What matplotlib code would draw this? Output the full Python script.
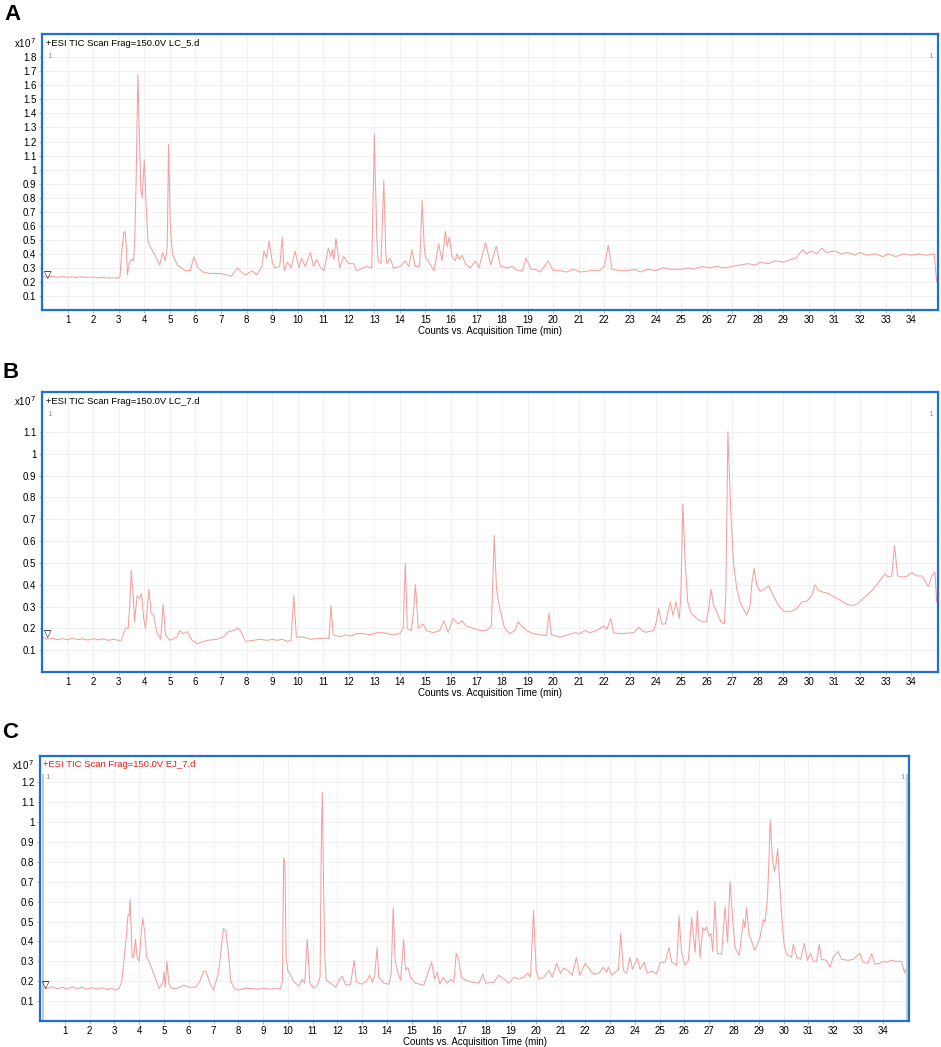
"""
TIC chromatograms (A, B, C) redrawn from digitised points.
Output: out.png
"""
import matplotlib
matplotlib.use("Agg")
import matplotlib.pyplot as plt

plt.rcParams["font.family"] = ["Liberation Sans", "DejaVu Sans"]

OUT = "out.png"

# Panel A: LC_5.d  (time in min, counts in x10^7)
a_time = [0.0, 0.2, 0.4, 0.6, 0.8, 1.0, 1.2, 1.4, 1.5, 1.7, 2.0, 2.2, 2.4, 2.6, 2.8, 2.95,
          3.05, 3.12, 3.2, 3.25, 3.3, 3.34, 3.42, 3.5, 3.58, 3.63, 3.68, 3.75, 3.8, 3.87,
          3.92, 4.0, 4.06, 4.15, 4.3, 4.45, 4.6, 4.72, 4.82, 4.9, 4.95, 5.02, 5.1, 5.3,
          5.6, 5.8, 5.94, 6.1, 6.3, 6.6, 7.0, 7.4, 7.65, 7.85, 8.0, 8.2, 8.4, 8.6, 8.68,
          8.78, 8.89, 9.0, 9.1, 9.3, 9.4, 9.47, 9.6, 9.75, 9.9, 10.05, 10.15, 10.3, 10.4,
          10.5, 10.62, 10.74, 10.9, 11.03, 11.2, 11.3, 11.36, 11.42, 11.5, 11.65, 11.8,
          12.0, 12.2, 12.3, 12.7, 12.9, 13.0, 13.1, 13.15, 13.26, 13.37, 13.45, 13.5,
          13.62, 13.75, 14.03, 14.2, 14.35, 14.47, 14.6, 14.77, 14.87, 14.95, 15.0, 15.13,
          15.33, 15.52, 15.65, 15.78, 15.85, 15.93, 16.04, 16.17, 16.23, 16.34, 16.43,
          16.56, 16.76, 16.96, 17.09, 17.35, 17.55, 17.77, 17.94, 18.2, 18.4, 18.6, 18.8,
          18.93, 19.13, 19.3, 19.5, 19.8, 20.0, 20.3, 20.5, 20.8, 21.06, 21.44, 21.8, 22.0,
          22.15, 22.3, 22.6, 22.9, 23.2, 23.4, 23.7, 24.0, 24.3, 24.6, 25.0, 25.3, 25.5,
          25.8, 26.1, 26.4, 26.7, 27.0, 27.3, 27.6, 27.9, 28.1, 28.4, 28.7, 29.0, 29.3,
          29.5, 29.75, 29.9, 30.1, 30.3, 30.5, 30.7, 31.0, 31.3, 31.5, 31.8, 32.0, 32.3,
          32.6, 32.9, 33.1, 33.4, 33.7, 34.0, 34.3, 34.6, 34.9, 35.0]
a_counts = [0.24, 0.235, 0.24, 0.232, 0.238, 0.233, 0.236, 0.231, 0.238, 0.232, 0.235, 0.228,
            0.233, 0.227, 0.23, 0.225, 0.235, 0.42, 0.55, 0.56, 0.45, 0.25, 0.34, 0.36, 0.35,
            0.5, 0.9, 1.68, 1.3, 0.85, 0.8, 1.07, 0.8, 0.48, 0.43, 0.38, 0.32, 0.41, 0.35,
            0.45, 1.18, 0.6, 0.4, 0.32, 0.28, 0.28, 0.38, 0.3, 0.27, 0.26, 0.26, 0.24, 0.30,
            0.26, 0.25, 0.28, 0.25, 0.31, 0.42, 0.37, 0.49, 0.35, 0.30, 0.31, 0.52, 0.28,
            0.34, 0.3, 0.42, 0.3, 0.37, 0.31, 0.36, 0.41, 0.31, 0.36, 0.3, 0.28, 0.44, 0.38,
            0.43, 0.36, 0.51, 0.3, 0.38, 0.33, 0.33, 0.28, 0.31, 0.3, 1.25, 0.5, 0.35, 0.33,
            0.92, 0.4, 0.33, 0.37, 0.3, 0.31, 0.35, 0.31, 0.43, 0.31, 0.31, 0.78, 0.45, 0.38,
            0.34, 0.28, 0.47, 0.35, 0.56, 0.45, 0.52, 0.38, 0.35, 0.4, 0.36, 0.39, 0.33, 0.3,
            0.35, 0.3, 0.48, 0.32, 0.455, 0.31, 0.3, 0.31, 0.28, 0.28, 0.37, 0.29, 0.29,
            0.27, 0.35, 0.28, 0.28, 0.27, 0.29, 0.27, 0.28, 0.28, 0.31, 0.46, 0.29, 0.28,
            0.28, 0.29, 0.27, 0.29, 0.28, 0.3, 0.29, 0.29, 0.3, 0.29, 0.31, 0.3, 0.31, 0.3,
            0.31, 0.32, 0.33, 0.32, 0.34, 0.33, 0.35, 0.34, 0.36, 0.37, 0.43, 0.40, 0.42,
            0.40, 0.44, 0.41, 0.42, 0.40, 0.41, 0.39, 0.41, 0.39, 0.40, 0.38, 0.40, 0.38,
            0.40, 0.39, 0.40, 0.39, 0.40, 0.20]

# Panel B: LC_7.d
b_time = [0.0, 0.2, 0.4, 0.6, 0.8, 1.0, 1.2, 1.4, 1.6, 1.8, 2.0, 2.2, 2.4, 2.6, 2.8, 3.0, 3.1,
          3.2, 3.27, 3.37, 3.43, 3.49, 3.57, 3.62, 3.72, 3.8, 3.89, 3.98, 4.05, 4.18, 4.27,
          4.37, 4.5, 4.64, 4.74, 4.83, 5.0, 5.28, 5.39, 5.52, 5.68, 5.87, 6.07, 6.46, 6.85,
          7.1, 7.3, 7.5, 7.66, 7.76, 7.96, 8.28, 8.5, 8.8, 9.0, 9.2, 9.4, 9.6, 9.74, 9.85,
          9.95, 10.24, 10.5, 10.76, 11.13, 11.23, 11.3, 11.39, 11.65, 11.91, 12.1, 12.3,
          12.56, 12.83, 13.1, 13.35, 13.74, 14.0, 14.13, 14.21, 14.29, 14.45, 14.52, 14.61,
          14.72, 14.91, 15.04, 15.3, 15.56, 15.72, 15.89, 16.08, 16.28, 16.43, 16.6, 16.87,
          17.13, 17.39, 17.58, 17.69, 17.78, 17.91, 18.1, 18.3, 18.5, 18.63, 18.76, 18.96,
          19.2, 19.6, 19.74, 19.83, 19.93, 20.26, 20.52, 20.84, 21.04, 21.23, 21.43, 21.7,
          21.96, 22.09, 22.25, 22.36, 22.63, 23.15, 23.34, 23.47, 23.6, 23.93, 24.03, 24.12,
          24.25, 24.38, 24.58, 24.68, 24.8, 24.93, 24.99, 25.07, 25.16, 25.26, 25.39, 25.62,
          25.82, 25.98, 26.08, 26.17, 26.27, 26.4, 26.56, 26.69, 26.75, 26.83, 26.95, 27.05,
          27.18, 27.31, 27.44, 27.57, 27.7, 27.77, 27.86, 27.96, 28.09, 28.29, 28.42, 28.61,
          28.81, 29.0, 29.26, 29.52, 29.72, 29.92, 30.11, 30.24, 30.37, 30.57, 30.76, 30.96,
          31.22, 31.48, 31.74, 31.94, 32.1, 32.26, 32.4, 32.59, 32.78, 32.98, 33.1, 33.24,
          33.35, 33.47, 33.63, 33.82, 34.02, 34.21, 34.41, 34.54, 34.67, 34.8, 34.93, 35.0]
b_counts = [0.16, 0.15, 0.155, 0.148, 0.153, 0.147, 0.155, 0.148, 0.152, 0.146, 0.153, 0.147,
            0.152, 0.145, 0.15, 0.145, 0.145, 0.18, 0.2, 0.2, 0.3, 0.465, 0.35, 0.23, 0.35,
            0.335, 0.36, 0.245, 0.2, 0.38, 0.27, 0.26, 0.18, 0.15, 0.31, 0.17, 0.145, 0.16,
            0.19, 0.175, 0.185, 0.145, 0.13, 0.145, 0.15, 0.16, 0.185, 0.19, 0.2, 0.19, 0.14,
            0.145, 0.15, 0.145, 0.15, 0.145, 0.15, 0.14, 0.145, 0.35, 0.16, 0.16, 0.15, 0.153,
            0.155, 0.153, 0.305, 0.17, 0.162, 0.17, 0.165, 0.176, 0.176, 0.17, 0.18, 0.18,
            0.17, 0.176, 0.2, 0.5, 0.2, 0.19, 0.26, 0.4, 0.2, 0.22, 0.19, 0.18, 0.19, 0.235,
            0.18, 0.245, 0.22, 0.235, 0.21, 0.2, 0.19, 0.19, 0.21, 0.625, 0.38, 0.29, 0.2,
            0.176, 0.19, 0.23, 0.21, 0.19, 0.176, 0.168, 0.168, 0.27, 0.17, 0.16, 0.168, 0.18,
            0.176, 0.19, 0.18, 0.19, 0.21, 0.195, 0.245, 0.18, 0.176, 0.18, 0.205, 0.19,
            0.182, 0.19, 0.23, 0.29, 0.22, 0.22, 0.32, 0.26, 0.32, 0.245, 0.35, 0.77, 0.5,
            0.32, 0.27, 0.245, 0.23, 0.23, 0.29, 0.38, 0.305, 0.275, 0.23, 0.22, 0.35, 1.1,
            0.715, 0.5, 0.38, 0.32, 0.29, 0.26, 0.305, 0.41, 0.475, 0.4, 0.37, 0.38, 0.395,
            0.35, 0.305, 0.28, 0.275, 0.29, 0.32, 0.325, 0.35, 0.4, 0.375, 0.365, 0.36, 0.345,
            0.33, 0.31, 0.305, 0.315, 0.335, 0.35, 0.365, 0.39, 0.42, 0.45, 0.435, 0.44, 0.58,
            0.44, 0.435, 0.438, 0.455, 0.44, 0.44, 0.42, 0.39, 0.44, 0.457, 0.32]

# Panel C: EJ_7.d
c_time = [0.1, 0.3, 0.5, 0.7, 0.9, 1.1, 1.3, 1.5, 1.7, 1.9, 2.1, 2.3, 2.5, 2.7, 2.9, 3.0, 3.2,
          3.3, 3.4, 3.5, 3.55, 3.6, 3.63, 3.66, 3.72, 3.78, 3.85, 3.92, 4.0, 4.1, 4.15, 4.22,
          4.3, 4.4, 4.55, 4.7, 4.8, 4.95, 5.0, 5.05, 5.12, 5.2, 5.3, 5.5, 5.8, 6.0, 6.3,
          6.45, 6.6, 6.7, 6.85, 7.0, 7.2, 7.3, 7.4, 7.5, 7.6, 7.7, 7.85, 8.0, 8.3, 8.5, 8.8,
          9.0, 9.3, 9.5, 9.7, 9.78, 9.83, 9.88, 9.93, 10.0, 10.05, 10.25, 10.45, 10.58,
          10.68, 10.78, 10.89, 11.05, 11.19, 11.3, 11.35, 11.39, 11.45, 11.5, 11.55, 11.73,
          11.93, 12.06, 12.2, 12.33, 12.53, 12.67, 12.77, 13.0, 13.2, 13.3, 13.41, 13.5,
          13.6, 13.67, 13.88, 14.08, 14.17, 14.25, 14.33, 14.44, 14.55, 14.67, 14.75, 14.84,
          14.95, 15.15, 15.49, 15.62, 15.8, 15.92, 16.03, 16.13, 16.27, 16.43, 16.56, 16.7,
          16.79, 16.9, 16.99, 17.17, 17.44, 17.71, 17.87, 17.98, 18.31, 18.51, 18.72, 18.92,
          19.12, 19.32, 19.52, 19.68, 19.79, 19.91, 20.02, 20.13, 20.33, 20.53, 20.67, 20.84,
          21.0, 21.13, 21.3, 21.47, 21.64, 21.78, 22.0, 22.14, 22.34, 22.55, 22.73, 22.87,
          22.93, 23.07, 23.2, 23.34, 23.43, 23.54, 23.67, 23.8, 23.9, 24.1, 24.21, 24.38,
          24.5, 24.68, 24.88, 25.02, 25.22, 25.37, 25.49, 25.69, 25.78, 25.89, 26.02, 26.16,
          26.29, 26.43, 26.52, 26.63, 26.74, 26.83, 26.9, 26.99, 27.07, 27.14, 27.23, 27.33,
          27.5, 27.64, 27.74, 27.84, 27.95, 28.04, 28.21, 28.38, 28.44, 28.51, 28.6, 28.71,
          28.84, 29.05, 29.18, 29.25, 29.34, 29.4, 29.46, 29.55, 29.63, 29.69, 29.76, 29.81,
          29.92, 30.02, 30.12, 30.32, 30.39, 30.53, 30.69, 30.84, 30.96, 31.09, 31.2, 31.33,
          31.44, 31.53, 31.73, 31.87, 32.0, 32.2, 32.34, 32.61, 32.81, 33.08, 33.21, 33.41,
          33.55, 33.68, 33.89, 34.02, 34.15, 34.35, 34.55, 34.75, 34.89, 34.95, 35.0]
c_counts = [0.17, 0.163, 0.172, 0.162, 0.17, 0.16, 0.172, 0.163, 0.17, 0.16, 0.168, 0.16,
            0.167, 0.158, 0.165, 0.155, 0.165, 0.2, 0.32, 0.45, 0.535, 0.53, 0.61, 0.52, 0.32,
            0.32, 0.41, 0.32, 0.30, 0.47, 0.515, 0.45, 0.32, 0.3, 0.25, 0.2, 0.163, 0.19,
            0.245, 0.17, 0.3, 0.19, 0.165, 0.163, 0.18, 0.17, 0.17, 0.2, 0.25, 0.25, 0.19,
            0.155, 0.24, 0.35, 0.465, 0.45, 0.34, 0.2, 0.163, 0.155, 0.165, 0.163, 0.16, 0.165,
            0.16, 0.165, 0.163, 0.2, 0.82, 0.8, 0.32, 0.25, 0.245, 0.196, 0.175, 0.21, 0.19,
            0.41, 0.19, 0.165, 0.18, 0.22, 0.915, 1.15, 0.6, 0.3, 0.205, 0.19, 0.17, 0.205,
            0.225, 0.18, 0.185, 0.305, 0.195, 0.185, 0.205, 0.23, 0.195, 0.225, 0.37, 0.22,
            0.19, 0.185, 0.24, 0.57, 0.305, 0.24, 0.205, 0.41, 0.255, 0.27, 0.22, 0.19, 0.18,
            0.23, 0.295, 0.21, 0.245, 0.185, 0.22, 0.19, 0.21, 0.195, 0.34, 0.305, 0.22, 0.205,
            0.195, 0.19, 0.235, 0.19, 0.195, 0.23, 0.21, 0.19, 0.22, 0.21, 0.22, 0.24, 0.22,
            0.555, 0.25, 0.21, 0.22, 0.255, 0.22, 0.29, 0.24, 0.265, 0.255, 0.23, 0.32, 0.23,
            0.29, 0.265, 0.235, 0.24, 0.27, 0.245, 0.27, 0.23, 0.245, 0.26, 0.44, 0.255, 0.24,
            0.32, 0.26, 0.315, 0.26, 0.295, 0.24, 0.25, 0.235, 0.295, 0.295, 0.37, 0.295, 0.28,
            0.525, 0.34, 0.28, 0.305, 0.52, 0.345, 0.555, 0.32, 0.47, 0.455, 0.475, 0.425,
            0.44, 0.35, 0.6, 0.34, 0.335, 0.575, 0.395, 0.7, 0.5, 0.37, 0.33, 0.51, 0.47, 0.57,
            0.44, 0.4, 0.355, 0.42, 0.51, 0.495, 0.6, 0.77, 1.01, 0.815, 0.75, 0.78, 0.865,
            0.765, 0.535, 0.385, 0.335, 0.32, 0.385, 0.32, 0.31, 0.39, 0.305, 0.34, 0.3, 0.3,
            0.385, 0.31, 0.305, 0.27, 0.32, 0.35, 0.31, 0.305, 0.31, 0.34, 0.295, 0.29, 0.34,
            0.285, 0.29, 0.3, 0.295, 0.305, 0.3, 0.3, 0.24, 0.265, 0.17]

x_ticks = list(range(1, 35))
a_yticks = [round(0.1 * i, 1) for i in range(1, 19)]
b_yticks = [round(0.1 * i, 1) for i in range(1, 12)]
c_yticks = [round(0.1 * i, 1) for i in range(1, 13)]

LINE = "#f4a0a0"
SPINE = "#1f6fd8"


def draw_panel(fig, rect, letter, letter_xy, t, y, yticks, ymax, xmax, title,
               title_color, marker_y, gray_bars=False):
    ax = fig.add_axes(rect)
    ax.plot(t, y, color=LINE, linewidth=0.75)
    ax.set_xlim(0, xmax)
    ax.set_ylim(0, ymax)
    ax.set_xticks(x_ticks)
    ax.set_yticks(yticks)
    ax.set_yticklabels([f"{v:g}" for v in yticks])
    ax.grid(True, color="#efefef", linewidth=0.6)
    ax.set_axisbelow(True)
    for s in ax.spines.values():
        s.set_color(SPINE)
        s.set_linewidth(1.6)
    ax.tick_params(labelsize=7, length=2, width=0.5, color="#999999", pad=2)
    ax.tick_params(axis="x", pad=1.5)
    ax.set_xlabel("Counts vs. Acquisition Time (min)", fontsize=7, labelpad=0.5)

    ax.text(0.004, 0.967, "+ESI TIC Scan Frag=150.0V " + title, transform=ax.transAxes,
            fontsize=6.8, color=title_color, va="center", ha="left")
    ax.text(-0.006, 0.967, r"x10$^{\,7}$", transform=ax.transAxes, fontsize=7,
            va="center", ha="right")
    ax.text(0.006, 0.918, "1", transform=ax.transAxes, fontsize=6, color="#999999",
            va="center", ha="left")
    ax.text(0.995, 0.918, "1", transform=ax.transAxes, fontsize=6, color="#999999",
            va="center", ha="right")
    ax.text(0.06, marker_y, "\u25bd", fontsize=7, va="center", ha="left",
            family=["DejaVu Sans"])
    if gray_bars:
        ax.axvline(0.14, ymax=0.93, color="#c8c8c8", linewidth=1.5)
        ax.axvline(xmax - 0.08, ymax=0.93, color="#c8c8c8", linewidth=1.5)

    fig.text(letter_xy[0], letter_xy[1], letter, fontsize=16, fontweight="bold",
             va="center", ha="left")
    return ax


def main():
    fig = plt.figure(figsize=(9.41, 10.47), dpi=100)
    W, H = 941.0, 1047.0

    def rect(l, r, top, bot):
        return [l / W, (H - bot) / H, (r - l) / W, (bot - top) / H]

    draw_panel(fig, rect(42, 938, 34, 310), "A", (4 / W, 1 - 14 / H), a_time, a_counts,
               a_yticks, 1.966, 35.05, "LC_5.d", "black", 0.25)
    draw_panel(fig, rect(42, 938, 392, 672), "B", (3 / W, 1 - 372 / H), b_time, b_counts,
               b_yticks, 1.283, 35.05, "LC_7.d", "black", 0.176)
    draw_panel(fig, rect(40, 909, 756, 1021), "C", (2 / W, 1 - 733 / H), c_time, c_counts,
               c_yticks, 1.332, 35.06, "EJ_7.d", "#e8191c", 0.18, gray_bars=True)

    fig.savefig(OUT, dpi=100)
    plt.close(fig)


if __name__ == "__main__":
    main()
